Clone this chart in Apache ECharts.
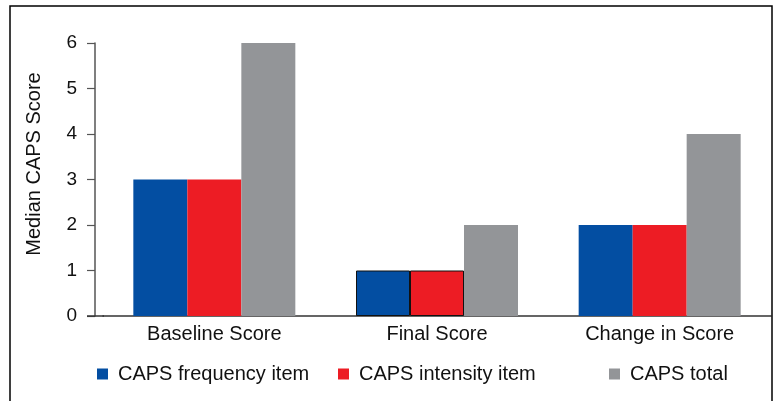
<!DOCTYPE html>
<html>
<head>
<meta charset="utf-8">
<script src="https://cdn.jsdelivr.net/npm/echarts@6/dist/echarts.min.js"></script>
<style>
  html, body { margin: 0; padding: 0; background: #fff; }
  #chart { width: 774px; height: 401px; }
</style>
</head>
<body>
<div id="chart"></div>
<script>
// data
var categories = ['Baseline Score', 'Final Score', 'Change in Score']
var freqItem = [3, 1, 2]
var intensityItem = [3, 1, 2]
var capsTotal = [6, 2, 4]
var yTicks = [0, 1, 2, 3, 4, 5, 6]

var FONT = 'Liberation Sans, Arial, Helvetica, sans-serif'
var BLUE = '#034ea2', RED = '#ed1c24', GRAY = '#939598'

// only the Final Score blue/red bars carry a thin dark outline
function outlined(values, color) {
    return values.map(function (v, i) {
        if (i === 1) {
            return { value: v, itemStyle: { color: color, borderColor: '#111', borderWidth: 1 } }
        }
        return v
    })
}

function legendAt(name, left) {
    return {
        data: [name],
        left: left,
        top: 363,
        padding: 0,
        icon: 'rect',
        itemWidth: 11,
        itemHeight: 11,
        selectedMode: false,
        textStyle: { fontFamily: FONT, fontSize: 20, color: '#111', lineHeight: 22, padding: [0, 0, 0, 5] }
    }
}

var myChart = echarts.init(document.getElementById('chart'))
var option = {
    animation: false,
    backgroundColor: '#fff',
    grid: { left: 103, right: 3, top: 43, bottom: 85, containLabel: false },
    legend: [
        legendAt('CAPS frequency item', 97),
        legendAt('CAPS intensity item', 338),
        legendAt('CAPS total', 609)
    ],
    xAxis: {
        type: 'category',
        data: categories,
        axisLine: { lineStyle: { color: '#333', width: 1.5 } },
        axisTick: { show: false },
        axisLabel: { fontFamily: FONT, fontSize: 20, color: '#111', margin: 8 }
    },
    yAxis: {
        type: 'value',
        min: 0,
        max: yTicks[yTicks.length - 1],
        interval: 1,
        offset: 8,
        axisLine: { show: true, lineStyle: { color: '#555', width: 1.5 } },
        axisTick: { show: true, length: 8, lineStyle: { color: '#555', width: 1.2 } },
        axisLabel: { fontFamily: FONT, fontSize: 19, color: '#111', margin: 18 },
        splitLine: { show: false }
    },
    series: [
        { name: 'CAPS frequency item', type: 'bar', barWidth: 54, barGap: '0%', itemStyle: { color: BLUE }, data: outlined(freqItem, BLUE) },
        { name: 'CAPS intensity item', type: 'bar', barWidth: 54, barGap: '0%', itemStyle: { color: RED }, data: outlined(intensityItem, RED) },
        { name: 'CAPS total', type: 'bar', barWidth: 54, barGap: '0%', itemStyle: { color: GRAY }, data: capsTotal }
    ],
    graphic: [
        // outer frame of the figure
        { type: 'rect', shape: { x: 10, y: 6, width: 762, height: 420 }, style: { fill: 'none', stroke: '#000', lineWidth: 1.5 }, z: 100 },
        // x axis line continues left past the y axis
        { type: 'line', shape: { x1: 87, y1: 316, x2: 104, y2: 316 }, style: { stroke: '#333', lineWidth: 1.5 }, z: 100 },
        // y axis title, sits a little above the axis middle
        { type: 'text', x: 34, y: 164, rotation: Math.PI / 2,
          style: { text: 'Median CAPS Score', fontFamily: FONT, fontSize: 20, fill: '#111', align: 'center', verticalAlign: 'middle' } }
    ]
}
myChart.setOption(option)
window.addEventListener('resize', myChart.resize)
</script>
</body>
</html>
